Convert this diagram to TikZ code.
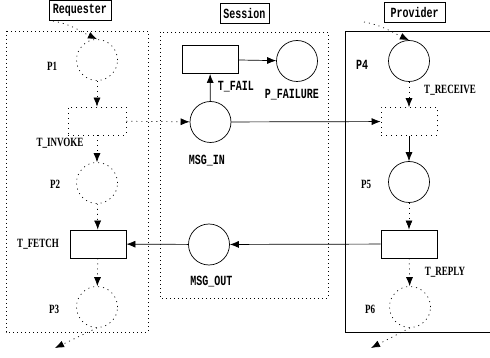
\documentclass[tikz,border=0pt]{standalone}
\usepackage{graphicx}
\usepackage{fontspec}
\setmainfont{Liberation Serif}
\newfontfamily\monof{Liberation Mono}
\newcommand\tallt[1]{\scalebox{1}[1.4]{#1}}
\usetikzlibrary{arrows.meta}
\begin{document}
\begin{tikzpicture}[x=1pt,y=-1pt,
  place/.style={circle,draw,line width=0.7pt,minimum size=41pt,inner sep=0pt},
  dplace/.style={place,dash pattern=on 1pt off 4pt},
  trans/.style={rectangle,draw,line width=0.9pt,minimum width=56pt,minimum height=28pt,inner sep=0pt},
  dtrans/.style={trans,line width=0.7pt,dash pattern=on 1pt off 4pt},
  lbl/.style={font=\bfseries\fontsize{9}{9}\selectfont,inner sep=0pt},
  mlbl/.style={font=\monof\bfseries\fontsize{10}{10}\selectfont,inner sep=0pt},
  hdr/.style={draw,line width=0.7pt,font=\monof\bfseries\fontsize{10}{10}\selectfont,minimum height=20pt,inner sep=0pt},
  arr/.style={-{Latex[length=9pt,width=7pt]},line width=0.7pt},
  darr/.style={arr,dash pattern=on 1pt off 4pt},
  region/.style={line width=0.7pt,dash pattern=on 1pt off 3pt}]
\useasboundingbox (0,0) rectangle (490,358);
\fill[white] (0,0) rectangle (490,358);

% headers
\node[hdr,minimum width=62pt] (hreq) at (80,10.5) {\tallt{Requester}};
\node[hdr,minimum width=49pt] (hses) at (244.5,13) {\tallt{Session}};
\node[hdr,minimum width=61pt] (hpro) at (414.5,12) {\tallt{Provider}};

% regions
\draw[region] (6,31) rectangle (148,332);
\draw[region] (160,32) rectangle (328,298);
\draw[line width=0.8pt] (490,31) -- (345,31) -- (345,332) -- (490,332);

% requester
\node[dplace] (p1) at (97,60) {};
\node[dtrans,minimum width=58pt] (tinv) at (97,121) {};
\node[dplace] (p2) at (97,183) {};
\node[trans] (tfetch) at (98,244) {};
\node[dplace] (p3) at (97,307) {};

% session
\node[trans] (tfail) at (210,59.5) {};
\node[place] (pfail) at (297,61) {};
\node[place] (msgin) at (210.5,122) {};
\node[place] (msgout) at (209,244.5) {};

% provider
\node[place] (p4) at (409,61) {};
\node[dtrans] (trec) at (409,121.5) {};
\node[place] (p5) at (409,182) {};
\node[trans] (trep) at (409,244) {};
\node[dplace] (p6) at (410,307) {};

% labels
\node[lbl] (lp1) at (52,66) {\tallt{P1}};
\node[lbl] (ltinv) at (60,143.5) {\tallt{T\_INVOKE}};
\node[lbl] (lp2) at (55,184) {\tallt{P2}};
\node[lbl] (ltfetch) at (38,244) {\tallt{T\_FETCH}};
\node[lbl] (lp3) at (54,309) {\tallt{P3}};
\node[mlbl] (ltfail) at (236,87) {\tallt{T\_FAIL}};
\node[mlbl] (lpfail) at (292,95) {\tallt{P\_FAILURE}};
\node[mlbl] (lmsgin) at (207,161) {\tallt{MSG\_IN}};
\node[mlbl] (lmsgout) at (211.5,282) {\tallt{MSG\_OUT}};
\node[mlbl] (lp4) at (362,65) {\tallt{P4}};
\node[lbl] (ltrec) at (450,90) {\tallt{T\_RECEIVE}};
\node[lbl] (lp5) at (366,184) {\tallt{P5}};
\node[lbl] (ltrep) at (445,272) {\tallt{T\_REPLY}};
\node[lbl] (lp6) at (370,309) {\tallt{P6}};

% free ends
\coordinate (rin) at (53,21);
\coordinate (rout) at (55,348);
\coordinate (pin) at (364,22);
\coordinate (pout) at (371,348);

% requester arcs
\draw[darr] (rin) to[out=-10,in=155] (p1.north);
\draw[darr] (p1) -- (tinv);
\draw[darr] (tinv) -- (p2);
\draw[darr] (p2) -- (tfetch);
\draw[darr] (tfetch) -- (p3);
\draw[darr] (p3.south) -- (rout);

% session arcs
\draw[darr] (tinv) -- (msgin);
\draw[arr] (msgin) -- (tfail);
\draw[arr] (tfail) -- (pfail);
\draw[arr] (msgin) -- (trec);
\draw[arr] (trep) -- (msgout);
\draw[arr] (msgout) -- (tfetch);

% provider arcs
\draw[darr] (pin) to[out=-10,in=155] (p4.north);
\draw[darr] (p4) -- (trec);
\draw[arr] (trec) -- (p5);
\draw[darr] (p5) -- (trep);
\draw[darr] (trep) -- (p6);
\draw[darr] (p6.south) -- (pout);
\end{tikzpicture}
\end{document}
